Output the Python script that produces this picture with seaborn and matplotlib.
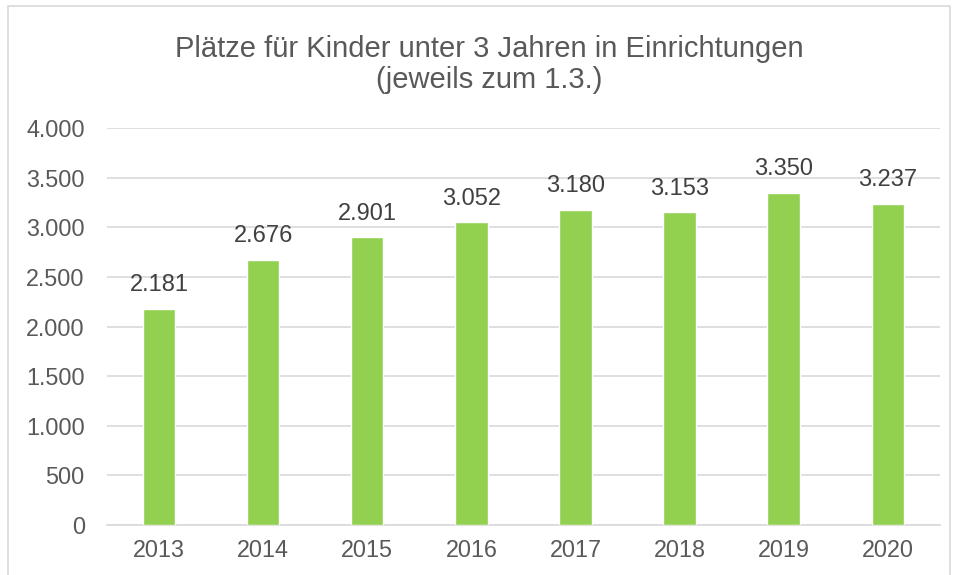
import matplotlib
matplotlib.use("Agg")
import matplotlib.pyplot as plt
import seaborn as sns
import pandas as pd
from matplotlib.patches import Rectangle

years = ["2013", "2014", "2015", "2016", "2017", "2018", "2019", "2020"]
values = [2181, 2676, 2901, 3052, 3180, 3153, 3350, 3237]
yticks = [0, 500, 1000, 1500, 2000, 2500, 3000, 3500, 4000]

def fmt(v):
    return f"{v:,}".replace(",", ".")

sns.set_theme(style="white")
plt.rcParams["font.family"] = ["Liberation Sans", "DejaVu Sans"]

df = pd.DataFrame({"year": years, "value": values})
fig = plt.figure(figsize=(9.56, 5.75), dpi=100)
ax = fig.add_axes([0.112, 0.087, 0.871, 0.690])

sns.barplot(data=df, x="year", y="value", color="#92D050", width=0.31,
            saturation=1, ax=ax, zorder=3)

ax.set_ylim(0, 4000)
ax.set_xlim(-0.5, len(years) - 0.5)
ax.set_yticks(yticks)
ax.set_yticklabels([fmt(t) for t in yticks])
ax.yaxis.grid(True, color="#D9D9D9", linewidth=1.2, zorder=0)
ax.set_axisbelow(True)
for s in ["top", "right", "left"]:
    ax.spines[s].set_visible(False)
ax.spines["bottom"].set_color("#D9D9D9")
ax.spines["bottom"].set_linewidth(1.2)
ax.tick_params(axis="both", length=0, labelsize=16.8, colors="#595959")
ax.tick_params(axis="y", pad=16)
ax.tick_params(axis="x", pad=10)
ax.set_xlabel("")
ax.set_ylabel("")

for i, v in enumerate(values):
    ax.annotate(fmt(v), (i, v), xytext=(0, 9), textcoords="offset points",
                ha="center", va="bottom", fontsize=17, color="#404040")

fig.text(0.512, 0.888, "Plätze für Kinder unter 3 Jahren in Einrichtungen\n(jeweils zum 1.3.)",
         ha="center", va="center", fontsize=21, color="#595959", linespacing=1.15)

fig.patches.append(Rectangle((8 / 956, -0.01), (950 - 8) / 956, 1 - 6 / 575 + 0.01,
                             transform=fig.transFigure, fill=False,
                             edgecolor="#D9D9D9", linewidth=1.2))

fig.savefig("out.png", dpi=100, facecolor="white")
